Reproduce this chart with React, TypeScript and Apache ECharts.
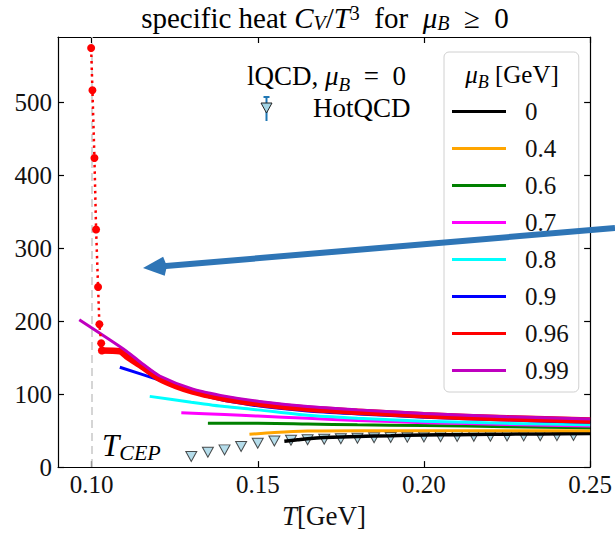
import React, { useEffect, useRef } from 'react';
import * as echarts from 'echarts';

const SERIF = 'Liberation Serif';

// axis ticks
const xTicks = [0.10, 0.15, 0.20, 0.25];
const yTicks = [0, 100, 200, 300, 400, 500];

// legend names and colours (mu_B in GeV)
const muNames = ['0', '0.4', '0.6', '0.7', '0.8', '0.9', '0.96', '0.99'];
const muColors = ['#000000', '#ffa500', '#008000', '#ff00ff', '#00ffff', '#0000ff', '#ff0000', '#bf00bf'];

// curves C_V/T^3 vs T for each mu_B
const T_0 = [0.158, 0.162, 0.165, 0.17, 0.18, 0.19, 0.2, 0.21, 0.22, 0.235, 0.25];
const C_0 = [35.5, 37.5, 39, 40.5, 42, 43, 44, 44.5, 45, 45.5, 46];

const T_04 = [0.1475, 0.155, 0.165, 0.18, 0.2, 0.225, 0.25];
const C_04 = [45, 47.5, 49.5, 50, 50, 50, 50];

const T_06 = [0.135, 0.15, 0.165, 0.18, 0.2, 0.225, 0.25];
const C_06 = [60, 60, 59, 58, 57, 55.5, 54];

const T_07 = [0.127, 0.14, 0.15, 0.165, 0.18, 0.2, 0.225, 0.25];
const C_07 = [74.5, 72, 70, 67, 64, 61, 58.5, 56.5];

const T_08 = [0.1175, 0.13, 0.14, 0.15, 0.165, 0.18, 0.2, 0.225, 0.25];
const C_08 = [97, 89, 83, 78.5, 71, 67, 63, 60, 58];

const T_09 = [0.1085, 0.12, 0.1355, 0.15, 0.165, 0.18, 0.2, 0.225, 0.25];
const C_09 = [137, 120, 96, 84, 77, 73, 68.5, 64.5, 61.5];

const T_096 = [0.1029, 0.1085, 0.1105, 0.1155, 0.1205, 0.1255, 0.1305, 0.1355, 0.1405, 0.1504, 0.1654, 0.18, 0.2, 0.225, 0.25];
const C_096 = [160, 159, 152, 137, 121, 111, 103.5, 98, 93.5, 87, 80, 76, 71, 67, 64];

const T_099 = [0.0963, 0.1105, 0.1155, 0.1205, 0.1305, 0.1405, 0.1505, 0.165, 0.18, 0.2, 0.225, 0.25];
const C_099 = [202, 159, 141, 125, 107, 97, 90, 83, 78.5, 73.5, 69, 66];

// approach to the critical end point (red dotted with markers)
const T_cep = [0.09987, 0.10026, 0.10086, 0.10136, 0.10196, 0.10235, 0.1029, 0.1031];
const C_cep = [575, 517, 424, 326, 247, 196, 170, 160];
const T_CEP_VALUE = 0.1;

// HotQCD lattice data, mu_B = 0
const T_hot = [0.13, 0.135, 0.14, 0.145, 0.15, 0.155, 0.16, 0.165, 0.17, 0.175, 0.18, 0.185, 0.19, 0.195, 0.2, 0.205, 0.21, 0.215, 0.22, 0.225, 0.23, 0.235, 0.24, 0.245];
const C_hot = [14.6, 20.4, 23.6, 28.2, 32.7, 35.9, 36.8, 37.5, 38.3, 39, 39.6, 40.2, 40.6, 41, 41.4, 41.7, 42, 42.2, 42.4, 42.6, 42.8, 43, 43.2, 43.3];

const curveT = [T_0, T_04, T_06, T_07, T_08, T_09, T_096, T_099];
const curveC = [C_0, C_04, C_06, C_07, C_08, C_09, C_096, C_099];

const zip = (a: number[], b: number[]) => a.map((v, i) => [v, b[i]]);

const mkRich = (s: number) => {
  const LH = Math.round(s * 1.3);
  return {
    n: { fontFamily: SERIF, fontSize: s, color: '#111', lineHeight: LH },
    i: { fontFamily: SERIF, fontStyle: 'italic', fontSize: s, color: '#111', lineHeight: LH },
    sub: { fontFamily: SERIF, fontStyle: 'italic', fontSize: Math.round(s * 0.7), color: '#111', lineHeight: Math.round(s * 0.7), verticalAlign: 'bottom' },
    sup: { fontFamily: SERIF, fontSize: Math.round(s * 0.68), color: '#111', lineHeight: Math.round(s * 0.9), verticalAlign: 'top' },
  };
};

const titleRich = {
  n: { fontFamily: SERIF, fontSize: 29, color: '#111', lineHeight: 30 },
  i: { fontFamily: SERIF, fontStyle: 'italic', fontSize: 29, color: '#111', lineHeight: 30 },
  sub: { fontFamily: SERIF, fontStyle: 'italic', fontSize: 20, color: '#111', lineHeight: 12, verticalAlign: 'bottom' },
  sup: { fontFamily: SERIF, fontSize: 20, color: '#111', lineHeight: 14, verticalAlign: 'top' },
};
const noteRich = mkRich(27);
const legRich = mkRich(25);
const cepRich = {
  bi: { fontFamily: SERIF, fontStyle: 'italic', fontSize: 31, color: '#111', lineHeight: 36 },
  bsub: { fontFamily: SERIF, fontStyle: 'italic', fontSize: 22, color: '#111', lineHeight: 18, verticalAlign: 'bottom' },
};
const axRich = {
  ax: { fontFamily: SERIF, fontSize: 25, color: '#111', lineHeight: 27 },
  xn: { fontFamily: SERIF, fontSize: 27, color: '#111', lineHeight: 32 },
  xi: { fontFamily: SERIF, fontStyle: 'italic', fontSize: 27, color: '#111', lineHeight: 32 },
};

export default function App() {
  const ref = useRef<HTMLDivElement>(null);
  useEffect(() => {
    const chart = echarts.init(ref.current!, null, { renderer: 'svg' });
    const XMIN = 0.0899;
    const XMAX = 0.25;
    const axisLine = { show: true, onZero: false, lineStyle: { color: '#000', width: 1.2 } };
    const tickStyle = { color: '#000', width: 1.2 };

    const lineSeries = muNames.map((name, k) => ({
      name,
      type: 'line',
      xAxisIndex: 0,
      yAxisIndex: 0,
      data: zip(curveT[k], curveC[k]),
      showSymbol: false,
      symbol: 'none',
      smooth: 0.25,
      lineStyle: { color: muColors[k], width: name === '0.96' ? 6.5 : name === '0' ? 3.5 : 3 },
      itemStyle: { color: muColors[k] },
      z: 3 + k,
    }));

    // arrow geometry (overlay annotation)
    const tip = [143, 268];
    const start = [615, 228];
    const dx = start[0] - tip[0];
    const dy = start[1] - tip[1];
    const L = Math.hypot(dx, dy);
    const ux = dx / L, uy = dy / L;
    const headLen = 21, headHalf = 9.5;
    const bx = tip[0] + ux * headLen, by = tip[1] + uy * headLen;
    const px = -uy, py = ux;

    const option = {
      animation: false,
      backgroundColor: '#ffffff',
      textStyle: { fontFamily: SERIF },
      grid: { left: 58, right: 23, top: 37, bottom: 65, containLabel: false },
      xAxis: [
        {
          type: 'value', min: XMIN, max: XMAX, position: 'bottom',
          axisLine,
          axisTick: { show: true, inside: true, length: 6, customValues: xTicks, lineStyle: tickStyle },
          axisLabel: {
            show: true, customValues: xTicks, margin: 4,
            formatter: (v: number) => `{ax|${v.toFixed(2)}}`,
            rich: axRich,
          },
          splitLine: { show: false },
          name: '{xi|T}{xn|[GeV]}',
          nameLocation: 'middle',
          nameGap: 31,
          nameTextStyle: { rich: axRich },
        },
        {
          type: 'value', min: XMIN, max: XMAX, position: 'top',
          axisLine,
          axisTick: { show: true, inside: true, length: 6, customValues: xTicks, lineStyle: tickStyle },
          axisLabel: { show: false },
          splitLine: { show: false },
        },
      ],
      yAxis: [
        {
          type: 'value', min: 0, max: 590, position: 'left',
          axisLine,
          axisTick: { show: true, inside: true, length: 6, customValues: yTicks, lineStyle: tickStyle },
          axisLabel: {
            show: true, customValues: yTicks, margin: 6,
            formatter: (v: number) => `{ax|${v}}`,
            rich: axRich,
          },
          splitLine: { show: false },
        },
        {
          type: 'value', min: 0, max: 590, position: 'right',
          axisLine,
          axisTick: { show: true, inside: true, length: 6, customValues: yTicks, lineStyle: tickStyle },
          axisLabel: { show: false },
          splitLine: { show: false },
        },
      ],
      legend: {
        data: muNames,
        orient: 'vertical',
        left: 444,
        top: 52,
        icon: 'rect',
        itemWidth: 54,
        itemHeight: 3,
        itemGap: 12,
        padding: [47, 10, 9, 8],
        backgroundColor: 'rgba(255,255,255,0.85)',
        borderColor: '#d0d0d0',
        borderWidth: 1,
        borderRadius: 5,
        formatter: (name: string) => `{lg|${name}}`,
        textStyle: {
          rich: { lg: { fontFamily: SERIF, fontSize: 25, color: '#111', lineHeight: 26, padding: [0, 0, 0, 14] } },
        },
        selectedMode: false,
      },
      series: [
        {
          name: 'HotQCD',
          type: 'scatter',
          xAxisIndex: 0,
          yAxisIndex: 0,
          data: zip(T_hot, C_hot),
          symbol: 'triangle',
          symbolRotate: 180,
          symbolSize: [11, 10],
          itemStyle: { color: '#a3d5e6', borderColor: '#222', borderWidth: 1 },
          z: 2,
        },
        ...lineSeries,
        {
          name: 'CEP',
          type: 'line',
          xAxisIndex: 0,
          yAxisIndex: 0,
          data: zip(T_cep, C_cep),
          symbol: 'circle',
          symbolSize: 8,
          showSymbol: true,
          lineStyle: { color: '#ff0000', width: 2.5, type: [2.5, 4] },
          itemStyle: { color: '#ff0000' },
          z: 12,
          markLine: {
            silent: true,
            symbol: 'none',
            label: { show: false },
            lineStyle: { color: '#c8c8c8', type: [8, 5], width: 1.5 },
            data: [{ xAxis: T_CEP_VALUE }],
            z: 1,
          },
        },
      ],
      graphic: [
        {
          type: 'text', x: 325, y: 18, z: 20,
          style: {
            text: '{n|specific heat }{i|C}{sub|V}{n|/}{i|T}{sup|3}{n|  for  }{i|μ}{sub|B}{n|  ≥  0}',
            rich: titleRich, align: 'center', verticalAlign: 'middle',
          },
        },
        {
          type: 'text', x: 512, y: 74, z: 20,
          style: { text: '{i|μ}{sub|B}{n| [GeV]}', rich: legRich, align: 'center', verticalAlign: 'middle' },
        },
        {
          type: 'text', x: 247, y: 76, z: 20,
          style: { text: '{n|lQCD, }{i|μ}{sub|B}{n|  =  0}', rich: noteRich, align: 'left', verticalAlign: 'middle' },
        },
        {
          type: 'text', x: 313, y: 108, z: 20,
          style: { text: '{n|HotQCD}', rich: noteRich, align: 'left', verticalAlign: 'middle' },
        },
        {
          type: 'line', z: 20,
          shape: { x1: 266.5, y1: 97, x2: 266.5, y2: 121 },
          style: { stroke: '#1f77b4', lineWidth: 2 },
        },
        {
          type: 'line', z: 20,
          shape: { x1: 263.5, y1: 97, x2: 269.5, y2: 97 },
          style: { stroke: '#1f77b4', lineWidth: 2 },
        },
        {
          type: 'polygon', z: 21,
          shape: { points: [[261, 103], [272, 103], [266.5, 113]] },
          style: { fill: '#a3d5e6', stroke: '#222', lineWidth: 1 },
        },
        {
          type: 'text', x: 102, y: 445, z: 20,
          style: { text: '{bi|T}{bsub|CEP}', rich: cepRich, align: 'left', verticalAlign: 'middle' },
        },
        {
          type: 'line', z: 30,
          shape: { x1: start[0], y1: start[1], x2: bx - ux, y2: by - uy },
          style: { stroke: '#2e75b6', lineWidth: 6 },
        },
        {
          type: 'polygon', z: 31,
          shape: {
            points: [
              [tip[0], tip[1]],
              [bx + px * headHalf, by + py * headHalf],
              [bx + ux * 3, by + uy * 3],
              [bx - px * headHalf, by - py * headHalf],
            ],
          },
          style: { fill: '#2e75b6' },
        },
      ],
    };
    chart.setOption(option as any);
    return () => chart.dispose();
  }, []);
  return <div ref={ref} style={{ position: 'absolute', left: 0, top: 0, width: 615, height: 534 }} />;
}
